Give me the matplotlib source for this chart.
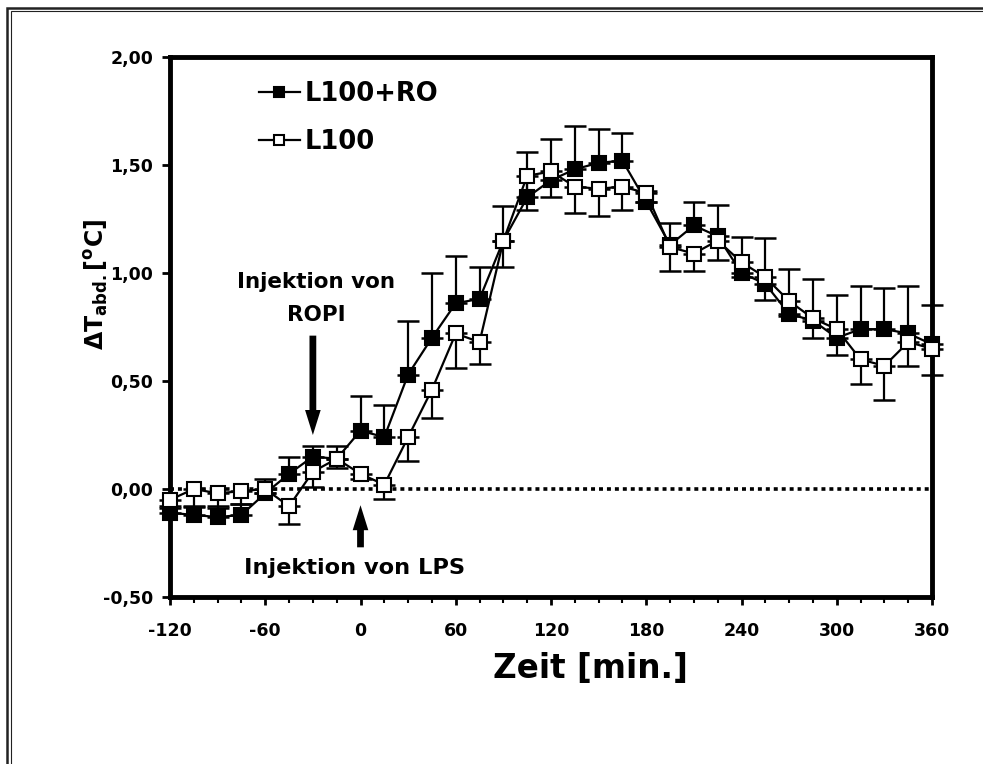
import matplotlib
matplotlib.use("Agg")
import matplotlib.pyplot as plt
import matplotlib.patches as patches
import numpy as np

plt.rcParams['font.family'] = ['DejaVu Sans']
plt.rcParams['font.weight'] = 'bold'
plt.rcParams['axes.labelweight'] = 'bold'
plt.rcParams['axes.unicode_minus'] = False
plt.rcParams['mathtext.fontset'] = 'custom'
plt.rcParams['mathtext.rm'] = 'DejaVu Sans:bold'
plt.rcParams['mathtext.it'] = 'DejaVu Sans:bold'
plt.rcParams['mathtext.bf'] = 'DejaVu Sans:bold'
plt.rcParams['mathtext.default'] = 'rm'

# Zeitpunkte in min (alle 15 min)
zeit = np.arange(-120, 361, 15)

# L100+RO (gefuellte Quadrate), Mittelwert und Fehler nach oben
l100ro = [-0.11, -0.12, -0.13, -0.12, -0.02, 0.07, 0.15, 0.14, 0.27, 0.24,
          0.53, 0.70, 0.86, 0.88, 1.15, 1.35, 1.43, 1.48, 1.51, 1.52,
          1.33, 1.13, 1.22, 1.17, 1.00, 0.95, 0.81, 0.78, 0.70, 0.74,
          0.74, 0.72, 0.67]
l100ro_err = [0.03, 0.04, 0.05, 0.05, 0.065, 0.08, 0.05, 0.06, 0.16, 0.15,
              0.25, 0.30, 0.22, 0.15, 0.16, 0.21, 0.19, 0.20, 0.155, 0.13,
              0.05, 0.10, 0.11, 0.145, 0.165, 0.21, 0.21, 0.19, 0.20, 0.20,
              0.19, 0.22, 0.18]

# L100 (offene Quadrate), Mittelwert und Fehler nach unten
l100 = [-0.05, 0.00, -0.02, -0.01, 0.00, -0.08, 0.08, 0.14, 0.07, 0.02,
        0.24, 0.46, 0.72, 0.68, 1.15, 1.45, 1.47, 1.40, 1.39, 1.40,
        1.37, 1.12, 1.09, 1.15, 1.05, 0.98, 0.87, 0.79, 0.74, 0.60,
        0.57, 0.68, 0.65]
l100_err = [0.04, 0.085, 0.07, 0.06, 0.02, 0.08, 0.07, 0.045, 0.025, 0.065,
            0.11, 0.13, 0.16, 0.10, 0.12, 0.16, 0.12, 0.12, 0.125, 0.11,
            0.04, 0.11, 0.08, 0.09, 0.07, 0.105, 0.07, 0.09, 0.12, 0.115,
            0.16, 0.11, 0.12]

yticks = [-0.5, 0.0, 0.5, 1.0, 1.5, 2.0]
ytick_labels = ['-0,50', '0,00', '0,50', '1,00', '1,50', '2,00']
xticks = [-120, -60, 0, 60, 120, 180, 240, 300, 360]

fig = plt.figure(figsize=(9.83, 7.64), dpi=100)
ax = fig.add_axes([170 / 983, 1 - 597 / 764, 762 / 983, 540 / 764])

# doppelter Rahmen um die Abbildung
fig.patches.append(patches.Rectangle((7 / 983, -0.1), 1.2, 1.1 - 8 / 764,
                                     transform=fig.transFigure, fill=False,
                                     lw=1.8, ec='#222222'))
fig.patches.append(patches.Rectangle((10.5 / 983, -0.1), 1.2, 1.1 - 11.5 / 764,
                                     transform=fig.transFigure, fill=False,
                                     lw=0.8, ec='#222222'))

ax.axhline(0, color='k', lw=2.6, ls=(0, (1.1, 1.1)), zorder=1)

ax.errorbar(zeit, l100ro, yerr=[np.zeros(len(zeit)), l100ro_err], fmt='none',
            ecolor='k', elinewidth=1.6, capsize=8, capthick=1.8, zorder=2,
            clip_on=False)
ax.errorbar(zeit, l100, yerr=[l100_err, np.zeros(len(zeit))], fmt='none',
            ecolor='k', elinewidth=1.6, capsize=8, capthick=1.8, zorder=2,
            clip_on=False)
h1, = ax.plot(zeit, l100ro, '-s', color='k', lw=1.6, ms=10, mfc='k',
              mec='k', mew=1.5, zorder=3, clip_on=False, label='L100+RO')
h2, = ax.plot(zeit, l100, '-s', color='k', lw=1.6, ms=10, mfc='white',
              mec='k', mew=1.5, zorder=4, clip_on=False, label='L100')

ax.legend(handles=[h1, h2], loc='upper left', bbox_to_anchor=(0.103, 0.975),
          frameon=False, fontsize=18.5, handlelength=1.6, handletextpad=0.2,
          labelspacing=0.85, borderaxespad=0, markerscale=0.75)

# Injektionspfeile
pfeil = dict(arrowstyle='simple,head_length=2.4,head_width=1.5,tail_width=0.65',
             color='k', lw=0, mutation_scale=7.5, shrinkA=0, shrinkB=0)
ax.annotate('', xy=(-30, 0.25), xytext=(-30, 0.71), arrowprops=pfeil)
ax.text(-28, 0.96, 'Injektion von', ha='center', va='center', fontsize=15.5)
ax.text(-28, 0.805, 'ROPI', ha='center', va='center', fontsize=15.5)
ax.annotate('', xy=(0, -0.075), xytext=(0, -0.27), arrowprops=pfeil)
ax.text(-4, -0.365, 'Injektion von LPS', ha='center', va='center', fontsize=16.2)

ax.set_xlim(-120, 360)
ax.set_ylim(-0.5, 2.0)
ax.set_xticks(xticks)
ax.set_xticks(zeit, minor=True)
ax.set_yticks(yticks)
ax.set_yticklabels(ytick_labels)
ax.tick_params(axis='both', which='major', direction='out', length=6, width=2,
               labelsize=12.5)
ax.tick_params(axis='x', which='major', pad=12)
ax.tick_params(axis='y', which='major', pad=6)
ax.tick_params(axis='x', which='minor', direction='out', length=4, width=1.5)
for s in ax.spines.values():
    s.set_linewidth(3.5)

ax.set_xlabel('Zeit [min.]', fontsize=23.5)
ax.xaxis.set_label_coords(0.552, -0.102)
ax.set_ylabel(r'$\Delta$T$_{abd.}$[$^{o}$C]', fontsize=17)
ax.yaxis.set_label_coords(-0.096, 0.578)
ax.yaxis.label.set_va('center')

fig.savefig('out.png', dpi=100)
